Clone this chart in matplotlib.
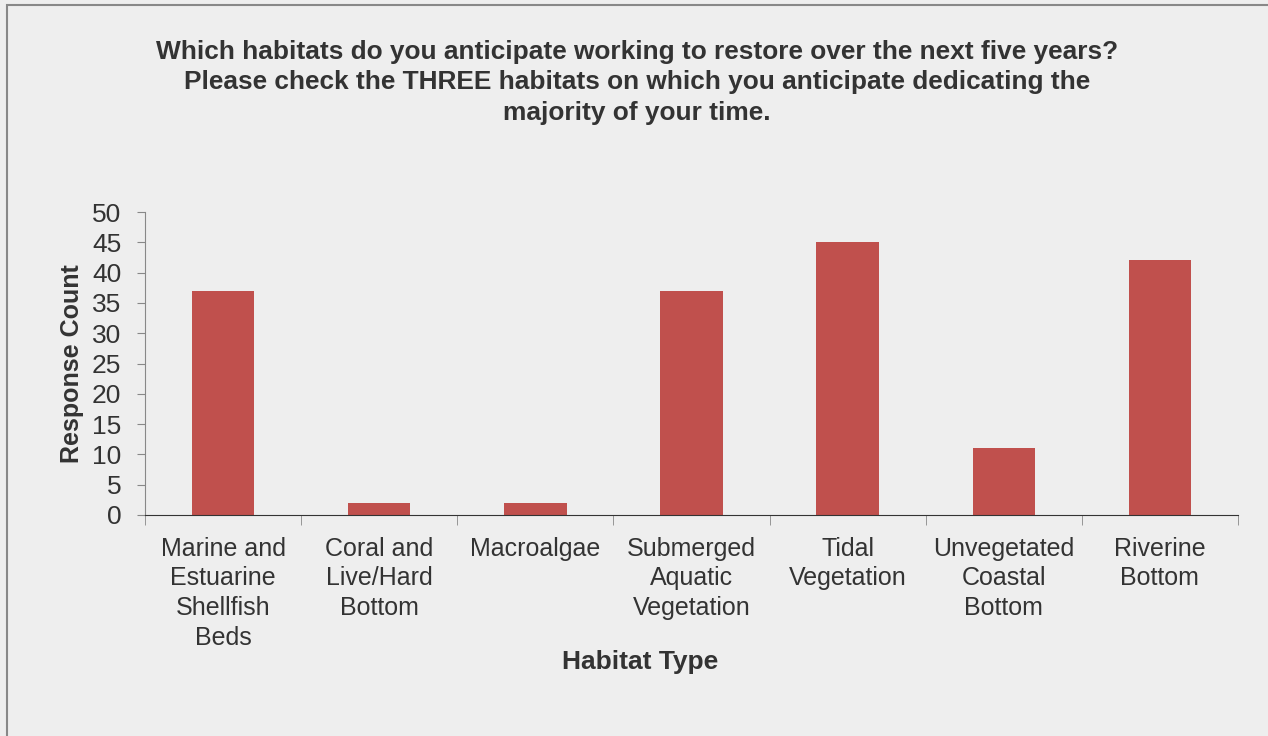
import matplotlib.pyplot as plt
from matplotlib.patches import Rectangle
import numpy as np

plt.rcParams['font.family'] = ['Liberation Sans', 'DejaVu Sans']

categories = ["Marine and\nEstuarine\nShellfish\nBeds", "Coral and\nLive/Hard\nBottom", "Macroalgae",
              "Submerged\nAquatic\nVegetation", "Tidal\nVegetation", "Unvegetated\nCoastal\nBottom",
              "Riverine\nBottom"]
counts = [37, 2, 2, 37, 45, 11, 42]
yticks = [0, 5, 10, 15, 20, 25, 30, 35, 40, 45, 50]

title = ("Which habitats do you anticipate working to restore over the next five years?\n"
         "Please check the THREE habitats on which you anticipate dedicating the\n"
         "majority of your time.")

bg = '#eeeeee'
txt = '#333333'

fig = plt.figure(figsize=(12.68, 7.36), dpi=100, facecolor=bg)
W, H = 1268, 736

# outer frame (only left and top visible in the reference)
fig.patches.append(Rectangle((7 / W, -0.1), 1.2, (H - 5) / H + 0.1, transform=fig.transFigure,
                             fill=False, edgecolor='#888888', linewidth=1.5))

ax = fig.add_axes([145 / W, (H - 515) / H, (1238 - 145) / W, (515 - 212) / H])
ax.set_facecolor(bg)

x = np.arange(len(categories))
ax.bar(x, counts, width=0.4, color='#c0504d')

ax.set_xlim(-0.5, len(categories) - 0.5)
ax.set_ylim(0, 50)
ax.set_yticks(yticks)
ax.set_xticks(x)
ax.set_xticklabels(categories, fontsize=18, color=txt, linespacing=1.3, va='top')
ax.set_xticks(np.arange(len(categories) + 1) - 0.5, minor=True)
ax.tick_params(axis='x', which='major', length=0, pad=15.5)
ax.tick_params(axis='x', which='minor', length=7, color='#888888', direction='out')
ax.tick_params(axis='y', labelsize=19, labelcolor=txt, length=6, color='#888888', pad=11)

for s in ['top', 'right']:
    ax.spines[s].set_visible(False)
ax.spines['left'].set_color('#888888')
ax.spines['bottom'].set_color('#333333')

ax.set_ylabel("Response Count", fontsize=18, fontweight='bold', color=txt, labelpad=6)

fig.text(637 / W, 1 - 40 / H, title, ha='center', va='top', fontsize=18.9, fontweight='bold',
         color=txt, linespacing=1.33)
fig.text(640 / W, 1 - 662 / H, "Habitat Type", ha='center', va='center', fontsize=19,
         fontweight='bold', color=txt)

fig.savefig('out.png', dpi=100, facecolor=bg)
